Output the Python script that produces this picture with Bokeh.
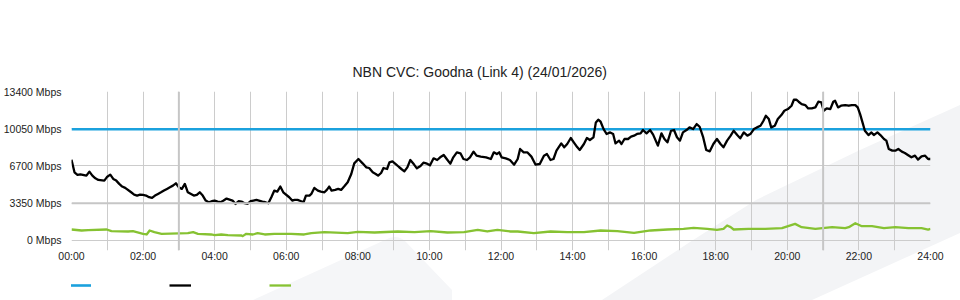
from urllib.parse import quote
from bokeh.plotting import figure
from bokeh.layouts import column
from bokeh.models import FixedTicker, Span, Legend, LegendItem, Range1d
from bokeh.embed import file_html
from bokeh.resources import INLINE

TITLE = "NBN CVC: Goodna (Link 4) (24/01/2026)"

# minutes since midnight / Mbps
traffic_min = [0, 5, 10, 15, 25, 30, 35, 40, 45, 55, 60, 65, 70, 75, 80, 85, 90, 100, 105, 110,
               115, 120, 125, 130, 135, 140, 145, 150, 155, 160, 165, 170, 175, 180, 185, 190,
               195, 205, 210, 215, 220, 225, 230, 235, 240, 245, 250, 255, 260, 270, 275, 280,
               285, 290, 295, 300, 305, 310, 320, 325, 330, 335, 340, 345, 350, 355, 365, 370,
               374, 379, 385, 389, 393, 399, 402, 407, 413, 418, 424, 428, 432, 436, 442, 447,
               452, 457, 463, 469, 474, 481, 488, 494, 499, 505, 510, 514, 519, 523, 529, 533,
               538, 544, 549, 553, 558, 563, 568, 574, 579, 585, 590, 596, 601, 607, 613, 618,
               624, 629, 635, 640, 646, 652, 657, 663, 668, 674, 679, 686, 695, 703, 708, 713,
               717, 721, 728, 735, 742, 748, 752, 758, 764, 771, 778, 785, 792, 797, 803, 808,
               813, 821, 826, 831, 837, 842, 848, 852, 859, 864, 869, 875, 879, 883, 887, 892,
               897, 903, 908, 912, 918, 922, 927, 933, 938, 943, 948, 954, 958, 964, 970, 975,
               983, 989, 994, 999, 1005, 1010, 1015, 1020, 1025, 1031, 1036, 1042, 1048, 1053,
               1059, 1064, 1070, 1076, 1082, 1088, 1093, 1099, 1105, 1110, 1116, 1121, 1127,
               1133, 1138, 1144, 1149, 1155, 1160, 1164, 1169, 1173, 1179, 1184, 1190, 1195,
               1201, 1207, 1211, 1215, 1219, 1224, 1230, 1235, 1241, 1247, 1252, 1257, 1261,
               1266, 1272, 1277, 1280, 1285, 1290, 1297, 1303, 1308, 1314, 1318, 1322, 1326,
               1330, 1336, 1341, 1345, 1351, 1356, 1362, 1366, 1370, 1376, 1381, 1386, 1392,
               1397, 1402, 1408, 1414, 1419, 1425, 1431, 1436, 1440]
traffic_mbps = [7270, 6130, 5900, 5950, 5830, 6190, 5830, 5590, 5450, 5385, 5740, 5920, 5535, 5385,
                5090, 4850, 4730, 4335, 4130, 4040, 4130, 4100, 4040, 3890, 3830, 4040, 4190, 4335,
                4490, 4640, 4785, 4935, 5145, 4785, 4640, 5090, 4335, 4040, 4100, 4335, 4040, 3590,
                3440, 3530, 3590, 3500, 3440, 3590, 3770, 3590, 3290, 3530, 3500, 3350, 3290, 3530,
                3590, 3650, 3500, 3440, 3350, 3890, 4490, 4400, 4850, 4335, 3890, 3590,
                3650, 3650, 3530, 3440, 4040, 4040, 4190, 4730, 4490, 4400, 4335, 4550, 4850, 4490,
                4550, 4640, 4550, 4850, 5235, 5985, 6940, 7330, 6940, 6580, 6520, 6130, 5985, 5835,
                6070, 6520, 6430, 7030, 7120, 6850, 6610, 6430, 6220, 6580, 7240, 6850, 6490, 6700,
                7000, 6910, 6760, 7390, 7240, 7480, 7690, 7330, 6910, 7480, 7930, 7840, 7330, 7240,
                7480, 7990, 7630, 7540, 7480, 7330, 7930, 7780, 7930, 7480, 7390, 7240, 6820, 7330,
                8230, 7930, 7930, 7540, 6820, 6880, 7630, 7780, 7240, 7330, 8080, 8730, 8380, 8680,
                9220, 8830, 8380, 8140, 8680, 9220, 9040, 9270, 10620, 10860, 10680, 10020, 9580,
                9720, 9580, 8730, 8980, 8680, 9130, 9130, 9340, 9430, 9580, 9640, 9935, 9640, 9935,
                9520, 8530, 9630, 9130, 8830, 9870, 9935, 9280, 8980, 9720, 9935, 10170, 10020,
                10470, 10230, 9270, 8140, 8020, 8680, 9130, 8680, 8380, 8980, 9430, 9870, 9480,
                9190, 9720, 9430, 9570, 10020, 10170, 10320, 10770, 11220, 10920, 10170, 10320,
                10920, 11280, 11670, 11820, 12120, 12660, 12660, 12480, 12270, 12180, 11880, 11880,
                11970, 12480, 12420, 11670, 11880, 11820, 12480, 12570, 11970, 12120, 12180, 12120,
                12180, 12180, 11970, 11370, 10620, 9870, 9480, 9720, 9480, 9720, 9480, 9125, 8980,
                8230, 8080, 8080, 8230, 7990, 7870, 7690, 7480, 7630, 7270, 7570, 7630, 7330, 7330]

second_min = [0, 17, 28, 59, 67, 95, 103, 120, 126, 131, 139, 151, 195, 204, 212, 234, 240, 251,
              262, 285, 287, 293, 304, 312, 324, 340, 368, 390, 402, 424, 463, 480, 508, 547, 575,
              602, 630, 658, 681, 697, 714, 736, 748, 775, 803, 831, 859, 887, 915, 943, 971, 999,
              1026, 1043, 1066, 1082, 1093, 1099, 1105, 1110, 1135, 1163, 1191, 1213, 1224, 1247,
              1275, 1297, 1303, 1314, 1325, 1342, 1362, 1381, 1403, 1425, 1436, 1440]
second_mbps = [987, 897, 927, 987, 837, 807, 837, 600, 540, 897, 750, 600, 660, 750, 600, 540, 480,
               540, 480, 450, 390, 600, 540, 660, 540, 600, 600, 540, 660, 750, 660, 780, 720, 810,
               750, 840, 720, 750, 960, 810, 960, 810, 808, 660, 808, 750, 750, 900, 840, 690, 900,
               990, 1050, 1140, 1050, 960, 1050, 1350, 1200, 987, 1047, 1047, 1107, 1496, 1196,
               1047, 1196, 1107, 1196, 1556, 1286, 1286, 1107, 1196, 1107, 1107, 987, 1047]

capacity_min = [0, 1440]
capacity_mbps = [10000, 10000]

y_ticks = [0, 3350, 6700, 10050, 13400]
x_ticks = [0, 120, 240, 360, 480, 600, 720, 840, 960, 1080, 1200, 1320, 1440]
x_tick_labels = ["00:00", "02:00", "04:00", "06:00", "08:00", "10:00", "12:00",
                 "14:00", "16:00", "18:00", "20:00", "22:00", "24:00"]

FONT = "Liberation Sans"
BLUE, BLACK, GREEN = "#1ba1dd", "#000000", "#86c232"

p = figure(width=960, height=270, output_backend="svg", toolbar_location=None,
           x_range=Range1d(0, 1440), y_range=Range1d(-900, 13400),
           min_border_left=70, min_border_right=30, min_border_top=91, min_border_bottom=20,
           background_fill_alpha=0, border_fill_alpha=0, outline_line_alpha=0)

p.title.text = TITLE
p.title.text_font = FONT
p.title.text_font_size = "14px"
p.title.text_font_style = "normal"
p.title.text_color = "#222222"
p.title.align = "left"
p.title.offset = 281
p.title.standoff = 24

p.xaxis.ticker = FixedTicker(ticks=x_ticks)
p.xaxis.major_label_overrides = {t: l for t, l in zip(x_ticks, x_tick_labels)}
p.yaxis.ticker = FixedTicker(ticks=y_ticks)
p.yaxis.major_label_overrides = {t: f"{t} Mbps" for t in y_ticks}
for ax in (p.xaxis[0], p.yaxis[0]):
    ax.axis_line_alpha = 0
    ax.major_tick_line_alpha = 0
    ax.minor_tick_line_alpha = 0
    ax.major_tick_out = 0
    ax.major_tick_in = 0
    ax.minor_tick_out = 0
    ax.minor_tick_in = 0
    ax.major_label_text_font = FONT
    ax.major_label_text_font_size = "10.5px"
    ax.major_label_text_color = "#222222"
p.xaxis.major_label_standoff = -1
p.yaxis.major_label_standoff = 10

p.xgrid.ticker = FixedTicker(ticks=list(range(0, 1441, 60)))
p.ygrid.ticker = FixedTicker(ticks=y_ticks)
p.xgrid.grid_line_color = "#cccccc"
p.ygrid.grid_line_color = "#cccccc"

for loc in (180, 1260):
    p.add_layout(Span(location=loc, dimension="height", line_color="#c6c6c6", line_width=2))
p.add_layout(Span(location=3350, dimension="width", line_color="#c6c6c6", line_width=2))

p.line(capacity_min, capacity_mbps, line_color=BLUE, line_width=2.6)
p.line(traffic_min, traffic_mbps, line_color=BLACK, line_width=2.3, line_join="round")
p.line(second_min, second_mbps, line_color=GREEN, line_width=2.3, line_join="round")

# legend strip (swatches only, no text, as in the original)
lg = figure(width=960, height=30, output_backend="svg", toolbar_location=None,
            x_range=Range1d(0, 960), y_range=Range1d(0, 30),
            x_axis_location=None, y_axis_location=None,
            min_border=0, min_border_left=0, min_border_right=0,
            min_border_top=0, min_border_bottom=0,
            background_fill_alpha=0, border_fill_alpha=0, outline_line_alpha=0)
lg.title = None
lg.grid.visible = False
r_cap = lg.line([-10, -5], [-10, -5], line_color=BLUE, line_width=2.6)
r_tr = lg.line([-10, -5], [-10, -5], line_color=BLACK, line_width=2.3)
r_sec = lg.line([-10, -5], [-10, -5], line_color=GREEN, line_width=2.3)
legend = Legend(items=[LegendItem(label=" ", renderers=[r_cap]),
                       LegendItem(label=" ", renderers=[r_tr]),
                       LegendItem(label=" ", renderers=[r_sec])],
                orientation="horizontal", location=(-2, 8),
                glyph_width=22, glyph_height=14, label_width=78, label_standoff=0,
                spacing=0, padding=0, margin=0, border_line_alpha=0,
                background_fill_alpha=0, label_text_font_size="10px")
lg.add_layout(legend)

# faint decorative background (page styling)
bg_svg = ("<svg xmlns='http://www.w3.org/2000/svg' width='960' height='300'>"
          "<polygon points='602,300 690,242 756,200 860,150 960,105 960,233 812,300' fill='#f3f4f6'/>"
          "<path d='M253,300 L385,240 Q397,233 406,242 L452,290 L452,300 Z' fill='#f5f6f8'/>"
          "</svg>")
layout = column(p, lg, spacing=0,
                styles={"background-color": "white",
                        "background-image": f'url("data:image/svg+xml,{quote(bg_svg)}")',
                        "background-repeat": "no-repeat"})

open("out.html", "w").write(file_html(layout, INLINE))
